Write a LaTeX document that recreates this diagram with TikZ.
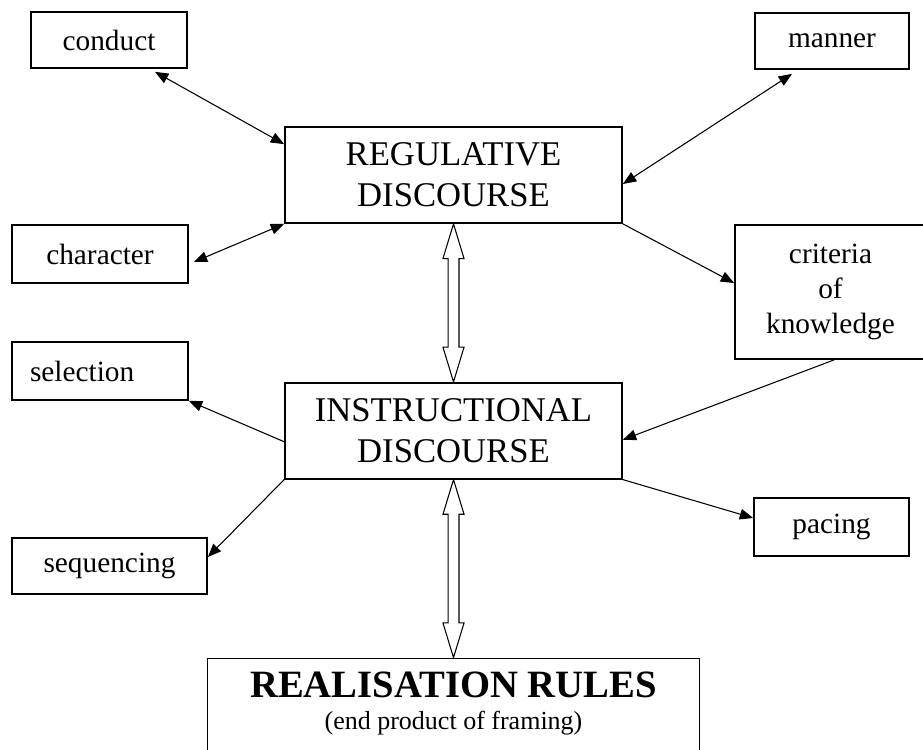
\documentclass[tikz,border=0pt]{standalone}
\usepackage{fontspec}
\setmainfont{Liberation Serif}
\usetikzlibrary{arrows.meta,positioning,calc}

\begin{document}
\begin{tikzpicture}[
        x=0.75pt, y=-0.75pt,
        box/.style={rectangle, draw, line width=1.3pt, inner sep=0pt, align=center, font=\fontsize{22}{26}\selectfont},
        bigbox/.style={box, minimum width=252.75pt, minimum height=72pt, font=\fontsize{26}{31}\selectfont},
        link/.style={-{Triangle[length=10pt,width=8pt]}, line width=0.8pt},
        both/.style={{Triangle[length=10pt,width=8pt]}-{Triangle[length=10pt,width=8pt]}, line width=0.8pt},
        hollow/.style={draw, fill=white, line width=0.8pt}
      ]
        \useasboundingbox (0,0) rectangle (923,749);

        % Main column
        \node[bigbox] (reg) at (453.5,175) {REGULATIVE\\DISCOURSE};
        \node[bigbox, below=118.5pt of reg] (instr) {INSTRUCTIONAL\\DISCOURSE};
        \node[box, below=133.5pt of instr, inner ysep=10pt] (real) {\begin{minipage}[t][80pt][t]{369pt}\centering
          {\fontsize{29}{34}\selectfont\bfseries REALISATION RULES\par}
          {\fontsize{19.5}{24}\selectfont (end product of framing)\par}
        \end{minipage}};

        % Regulative side
        \node[box, minimum width=117pt, minimum height=42pt] (conduct) at (109,40) {conduct};
        \node[box, minimum width=115.5pt, minimum height=42pt] (manner) at (832,41) {manner};
        \node[box, minimum width=132pt, minimum height=43.5pt] (character) at (100,254) {character};
        \node[box, minimum width=143.25pt, minimum height=100.5pt] (criteria) at (830.5,292) {criteria\\of\\knowledge};

        % Instructional side
        \node[box, text width=105pt, align=left, inner xsep=13.5pt, minimum height=43.5pt] (selection) at (100,371) {selection};
        \node[box, minimum width=146.25pt, minimum height=42pt] (sequencing) at (109.5,566) {sequencing};
        \node[box, minimum width=116.25pt, minimum height=43.5pt] (pacing) at (831.5,527) {pacing};

        % Arrows
        \draw[both] ($(conduct.south)+(46,3)$) -- ($(reg.north west)+(0,18)$);
        \draw[both] ($(character.east)+(5,8)$) -- (reg.south west);
        \draw[both] ($(manner.south)+(-40,4)$) -- ($(reg.east)+(0,9)$);
        \draw[link] (reg.south east) -- ($(criteria.west)+(0,-9)$);
        \draw[link] ($(criteria.south west)+(100,0)$) -- ($(instr.east)+(0,9)$);
        \draw[link] (instr.south east) -- ($(pacing.west)+(0,-9)$);
        \draw[link] ($(instr.west)+(0,11)$) -- (selection.south east);
        \draw[link] (instr.south west) -- ($(sequencing.east)+(0,-9)$);

        % Hollow double arrows
        \draw[hollow] let \p1=(reg.south), \p2=(instr.north) in
          (\p1) -- (\x1+7.9pt,\y1-26pt) -- (\x1+4.1pt,\y1-26pt) -- (\x1+4.1pt,\y2+26pt) -- (\x1+7.9pt,\y2+26pt)
          -- (\x1,\y2) -- (\x1-7.9pt,\y2+26pt) -- (\x1-4.1pt,\y2+26pt) -- (\x1-4.1pt,\y1-26pt) -- (\x1-7.9pt,\y1-26pt) -- cycle;
        \draw[hollow] let \p1=(instr.south), \p2=(real.north) in
          (\p1) -- (\x1+7.9pt,\y1-26pt) -- (\x1+4.1pt,\y1-26pt) -- (\x1+4.1pt,\y2+26pt) -- (\x1+7.9pt,\y2+26pt)
          -- (\x1,\y2) -- (\x1-7.9pt,\y2+26pt) -- (\x1-4.1pt,\y2+26pt) -- (\x1-4.1pt,\y1-26pt) -- (\x1-7.9pt,\y1-26pt) -- cycle;
      \end{tikzpicture}
\end{document}
